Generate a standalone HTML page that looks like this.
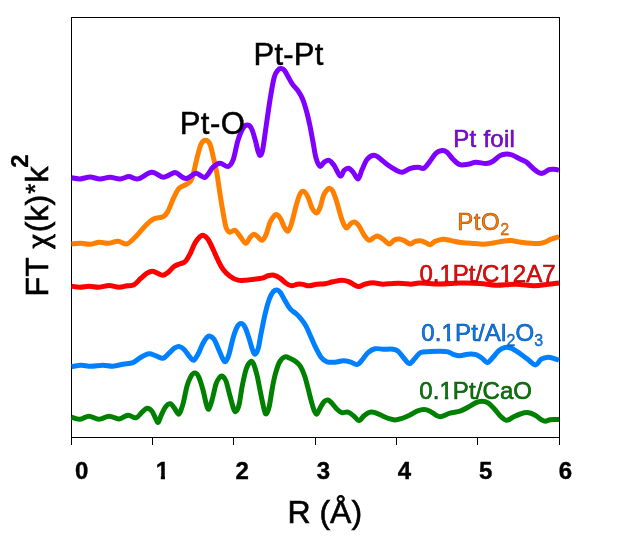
<!DOCTYPE html>
<html lang="en">
<head>
<meta charset="utf-8">
<title>Pt EXAFS Fourier transform</title>
<style>
html,body{margin:0;padding:0;background:#fff;}
body{width:629px;height:538px;overflow:hidden;position:relative;}
svg{display:block;position:absolute;left:0;top:0;}
text{font-family:"Liberation Sans",Arial,Helvetica,sans-serif;}
.curve{fill:none;stroke-width:5;stroke-linejoin:round;stroke-linecap:butt;}
.ax{stroke:#000;stroke-width:1;fill:none;shape-rendering:crispEdges;}
.tick{font-weight:bold;font-size:24px;fill:#000;stroke:#000;stroke-width:0.4px;}
.big{font-size:32px;fill:#000;stroke:#000;stroke-width:0.6px;}
.peak{font-size:31px;fill:#000;stroke:#000;stroke-width:0.5px;}
.lab{font-size:24px;stroke-width:0.6px;stroke-opacity:0.85;}
.sub{font-size:16px;stroke-width:0.35px;}
.chi{font-family:"Liberation Serif","DejaVu Serif",serif;}
</style>
</head>
<body>
<svg width="629" height="538" viewBox="0 0 629 538">
<defs>
<clipPath id="plot"><rect x="71" y="17" width="489" height="421"/></clipPath>
<clipPath id="cr"><path clip-rule="evenodd" d="M0 0H629V538H0ZM438.42 278.50H444.92V284.10H438.42ZM448.22 278.50H452.32V284.10H448.22ZM498.43 278.50H504.93V284.10H498.43ZM508.23 278.50H512.33V284.10H508.23Z"/></clipPath>
<clipPath id="cb"><path clip-rule="evenodd" d="M0 0H629V538H0ZM440.52 337.70H447.02V343.30H440.52ZM450.32 337.70H454.42V343.30H450.32Z"/></clipPath>
<clipPath id="cg"><path clip-rule="evenodd" d="M0 0H629V538H0ZM438.42 395.80H444.92V401.40H438.42ZM448.22 395.80H452.32V401.40H448.22Z"/></clipPath>
<clipPath id="oneB"><path d="M-1 -21H9.3V2H5.2V-3.6H-1Z"/></clipPath>
</defs>
<rect x="0" y="0" width="629" height="538" fill="#ffffff"/>
<g class="ax">
<rect x="71.5" y="17.5" width="488" height="420"/>
<line x1="71.50" y1="437" x2="71.50" y2="444.5"/><line x1="152.50" y1="437" x2="152.50" y2="444.5"/><line x1="233.50" y1="437" x2="233.50" y2="444.5"/><line x1="315.50" y1="437" x2="315.50" y2="444.5"/><line x1="396.50" y1="437" x2="396.50" y2="444.5"/><line x1="477.50" y1="437" x2="477.50" y2="444.5"/><line x1="559.50" y1="437" x2="559.50" y2="444.5"/>
</g>
<g clip-path="url(#plot)">
<path class="curve" stroke="#008000" d="M71.5 417.2C72.9 417.6 77.1 419.5 80.0 419.3C82.9 419.1 85.8 416.2 89.0 416.2C92.2 416.2 95.7 419.3 99.0 419.3C102.3 419.3 105.7 416.3 109.0 416.2C112.3 416.1 115.8 419.1 119.0 418.9C122.2 418.7 125.2 415.4 128.0 415.2C130.8 415.0 133.7 418.3 136.0 417.8C138.3 417.3 140.2 413.8 142.0 412.2C143.8 410.6 145.3 408.4 147.0 408.2C148.7 408.0 150.5 409.3 152.0 411.2C153.5 413.1 154.9 417.4 156.0 419.3C157.1 421.2 157.4 423.0 158.3 422.3C159.2 421.6 160.1 417.7 161.3 415.2C162.5 412.7 163.8 409.1 165.3 407.2C166.8 405.3 168.8 403.6 170.3 403.8C171.8 404.0 173.1 406.5 174.4 408.2C175.8 409.9 177.3 413.9 178.4 414.2C179.5 414.5 180.2 412.0 181.0 410.0C181.8 408.0 182.5 406.0 183.5 402.0C184.5 398.0 185.8 390.5 187.0 386.2C188.2 381.9 189.7 378.4 191.0 376.2C192.3 374.0 193.7 372.7 195.0 372.9C196.3 373.1 197.7 374.6 199.0 377.5C200.3 380.4 201.8 385.8 203.0 390.0C204.2 394.2 205.1 399.8 206.0 403.0C206.9 406.2 207.7 409.7 208.7 409.2C209.7 408.7 210.8 404.4 212.0 400.2C213.2 396.0 214.8 387.9 216.0 384.1C217.2 380.3 218.4 378.8 219.5 377.5C220.6 376.2 221.4 375.6 222.5 376.2C223.6 376.8 224.8 377.7 226.0 381.0C227.2 384.3 228.7 391.3 230.0 396.0C231.3 400.7 232.8 406.7 233.8 409.2C234.8 411.7 235.3 412.0 236.2 411.2C237.1 410.4 238.2 408.4 239.2 404.2C240.2 400.0 241.0 392.1 242.2 386.2C243.4 380.3 244.8 373.1 246.2 369.0C247.6 364.9 249.3 362.7 250.5 361.8C251.7 360.9 252.4 361.3 253.5 363.7C254.6 366.1 255.9 370.8 257.2 376.0C258.4 381.2 259.8 389.3 261.0 395.0C262.2 400.7 263.4 407.1 264.3 410.2C265.2 413.3 265.5 414.5 266.3 413.8C267.1 413.1 268.3 410.5 269.3 406.2C270.3 401.9 271.3 393.5 272.3 388.2C273.3 382.9 274.1 378.5 275.3 374.2C276.5 369.9 277.8 365.4 279.3 362.5C280.8 359.6 282.6 357.7 284.5 357.0C286.4 356.3 288.5 357.7 290.4 358.5C292.3 359.3 294.3 360.5 296.0 361.8C297.7 363.1 299.1 364.2 300.5 366.5C301.9 368.8 303.2 371.9 304.5 375.5C305.8 379.1 306.9 384.1 308.0 388.2C309.1 392.3 310.0 396.5 311.0 400.2C312.0 403.9 313.1 407.9 314.0 410.2C314.9 412.5 315.7 414.5 316.7 414.2C317.7 413.9 318.8 410.3 320.0 408.2C321.2 406.1 322.7 403.2 324.0 401.8C325.3 400.4 326.7 399.8 328.0 400.0C329.3 400.2 330.5 401.7 332.0 403.2C333.5 404.7 335.3 407.6 337.0 409.2C338.7 410.8 340.2 412.1 342.0 412.6C343.8 413.1 346.0 411.6 348.0 412.2C350.0 412.8 352.2 414.8 354.0 416.2C355.8 417.6 357.3 420.8 359.0 420.7C360.7 420.6 362.2 417.2 364.0 415.8C365.8 414.4 368.2 412.7 370.0 412.2C371.8 411.7 372.8 411.9 375.0 412.6C377.2 413.3 380.7 415.2 383.0 416.2C385.3 417.2 387.0 418.1 389.0 418.7C391.0 419.3 393.0 419.9 395.0 419.9C397.0 419.9 398.6 419.5 401.0 418.7C403.4 417.9 406.8 416.4 409.5 415.2C412.2 413.9 414.6 412.1 417.0 411.2C419.4 410.3 421.8 409.6 424.0 409.6C426.2 409.6 428.0 410.3 430.0 411.2C432.0 412.1 434.2 414.3 436.0 415.2C437.8 416.1 438.7 416.9 441.0 416.6C443.3 416.3 446.8 414.1 450.0 413.2C453.2 412.3 457.0 412.2 460.0 411.2C463.0 410.2 465.3 408.6 468.0 407.2C470.7 405.8 473.7 403.6 476.0 402.6C478.3 401.6 480.0 401.3 482.0 401.3C484.0 401.3 486.0 401.6 488.0 402.8C490.0 404.0 491.9 406.3 494.0 408.5C496.1 410.7 498.4 414.2 500.5 416.2C502.6 418.2 504.5 420.1 506.5 420.3C508.5 420.5 510.2 418.6 512.5 417.5C514.8 416.4 517.7 414.8 520.2 414.0C522.7 413.2 525.0 412.4 527.5 412.6C530.0 412.8 532.9 414.0 535.2 415.2C537.5 416.4 539.5 418.6 541.2 419.6C542.9 420.6 543.7 421.2 545.2 421.2C546.7 421.2 548.6 420.1 550.2 419.8C551.8 419.5 553.5 419.6 555.0 419.6C556.5 419.6 558.3 419.6 559.0 419.6"/>
<path class="curve" stroke="#0080ff" d="M71.5 366.6C73.1 366.4 77.8 365.3 81.0 365.2C84.2 365.1 87.3 366.2 91.0 366.2C94.7 366.2 99.3 365.2 103.0 365.2C106.7 365.2 109.7 366.4 113.0 366.2C116.3 366.0 119.7 364.8 123.0 364.2C126.3 363.6 130.0 363.8 133.0 362.6C136.0 361.4 138.3 358.7 141.0 357.2C143.7 355.7 146.5 354.0 149.0 353.8C151.5 353.6 153.7 355.1 156.0 355.8C158.3 356.5 160.8 358.6 163.0 358.2C165.2 357.8 167.1 354.9 169.0 353.2C170.9 351.5 172.6 349.3 174.4 348.2C176.2 347.1 177.9 346.3 179.6 346.6C181.3 346.9 182.9 348.2 184.6 350.0C186.3 351.8 188.5 355.5 190.0 357.2C191.5 358.9 192.3 360.8 193.6 360.3C194.9 359.8 196.4 357.1 198.0 354.2C199.6 351.3 201.5 346.0 203.0 343.2C204.5 340.4 205.8 338.4 207.0 337.2C208.2 336.0 208.8 335.9 210.0 336.2C211.2 336.5 212.5 336.9 214.0 339.2C215.5 341.5 217.5 346.8 219.0 350.2C220.5 353.6 221.9 357.4 223.0 359.3C224.1 361.2 224.7 362.2 225.7 361.3C226.7 360.4 227.8 358.1 229.0 354.2C230.2 350.3 231.7 342.7 233.0 338.2C234.3 333.7 235.7 329.6 237.0 327.2C238.3 324.8 239.7 323.5 241.0 323.5C242.3 323.5 243.7 324.8 245.0 327.2C246.3 329.6 247.7 334.4 249.0 338.2C250.3 342.0 251.6 347.5 252.6 350.2C253.6 352.9 254.2 354.5 255.2 354.2C256.1 353.9 257.3 351.9 258.3 348.2C259.3 344.5 260.1 338.0 261.3 332.2C262.5 326.4 264.0 318.6 265.3 313.1C266.6 307.6 268.0 302.7 269.3 299.1C270.6 295.5 272.0 293.1 273.3 291.6C274.6 290.1 275.7 289.9 276.9 290.0C278.1 290.1 278.9 290.5 280.3 292.4C281.7 294.2 283.6 298.3 285.3 301.1C287.0 303.9 288.5 307.0 290.4 309.1C292.3 311.2 294.6 312.3 296.5 314.0C298.4 315.7 299.9 317.5 301.5 319.5C303.1 321.5 304.4 323.2 306.0 326.1C307.6 329.0 309.3 333.4 311.0 337.1C312.7 340.8 314.3 344.9 316.0 348.2C317.7 351.5 319.2 354.9 321.0 357.2C322.8 359.5 324.7 361.0 327.0 361.8C329.3 362.6 332.3 362.4 335.0 362.2C337.7 362.0 340.5 360.9 343.0 360.8C345.5 360.7 347.7 361.2 350.0 361.8C352.3 362.4 355.0 364.9 357.0 364.6C359.0 364.3 360.2 362.2 362.0 360.2C363.8 358.2 365.8 354.5 368.0 352.6C370.2 350.7 372.5 349.4 375.0 348.8C377.5 348.2 380.0 349.1 383.0 349.2C386.0 349.3 390.5 348.9 393.0 349.2C395.5 349.5 396.2 349.7 398.0 351.2C399.8 352.7 402.1 356.1 404.0 358.2C405.9 360.3 407.7 363.5 409.5 363.6C411.3 363.7 412.7 360.7 414.6 358.8C416.5 356.9 418.1 353.6 420.7 352.4C423.3 351.2 426.8 351.8 430.0 351.6C433.2 351.4 437.0 351.2 440.0 351.2C443.0 351.2 445.7 351.2 448.0 351.8C450.3 352.4 452.0 353.9 454.0 354.6C456.0 355.3 457.7 355.9 460.0 355.8C462.3 355.7 465.3 354.4 468.0 354.2C470.7 354.0 473.8 354.0 476.0 354.6C478.2 355.2 479.6 356.5 481.5 357.8C483.4 359.1 485.5 362.5 487.4 362.4C489.3 362.3 491.1 359.2 493.0 357.2C494.9 355.2 497.0 352.1 499.0 350.5C501.0 348.9 503.0 347.9 505.0 347.5C507.0 347.1 508.7 347.3 511.0 348.2C513.3 349.1 516.3 351.1 519.0 352.9C521.7 354.7 524.3 356.8 527.0 358.8C529.7 360.8 532.9 364.8 535.3 364.9C537.7 365.0 539.1 360.5 541.2 359.2C543.4 357.9 546.0 357.3 548.2 357.2C550.4 357.1 552.4 358.1 554.2 358.6C556.0 359.1 558.2 359.9 559.0 360.2"/>
<path class="curve" stroke="#ff0000" d="M71.5 286.2C72.9 286.4 77.1 287.2 80.0 287.2C82.9 287.2 85.8 286.2 89.0 286.2C92.2 286.2 95.7 287.3 99.0 287.2C102.3 287.1 105.7 285.6 109.0 285.6C112.3 285.6 116.0 287.2 119.0 287.2C122.0 287.2 124.5 286.2 127.0 285.8C129.5 285.4 131.7 286.1 134.0 284.8C136.3 283.5 138.8 280.1 141.0 278.2C143.2 276.3 145.1 274.4 147.0 273.2C148.9 272.0 150.6 271.2 152.3 271.2C154.0 271.2 155.5 272.5 157.3 273.2C159.1 273.9 161.1 275.4 162.9 275.2C164.7 275.0 166.4 273.7 168.3 272.2C170.2 270.7 172.4 267.6 174.4 266.2C176.4 264.8 178.4 264.6 180.2 263.8C182.0 263.0 183.5 263.3 185.2 261.6C186.9 259.9 188.6 256.7 190.2 253.6C191.8 250.5 193.4 245.9 195.0 243.1C196.6 240.3 198.6 238.0 200.0 236.7C201.4 235.4 202.2 234.9 203.5 235.3C204.8 235.7 206.4 236.9 208.0 239.2C209.6 241.5 211.3 245.6 213.0 249.1C214.7 252.6 216.3 256.8 218.0 260.2C219.7 263.6 221.0 266.5 223.0 269.2C225.0 271.9 227.5 274.4 230.0 276.2C232.5 278.0 235.3 279.5 238.0 280.2C240.7 280.9 243.3 280.4 246.0 280.2C248.7 280.0 251.3 279.5 254.0 279.2C256.7 278.9 259.7 278.8 262.0 278.2C264.3 277.6 266.0 276.3 268.0 275.8C270.0 275.3 272.0 274.8 274.0 275.2C276.0 275.6 278.0 276.9 280.0 278.2C282.0 279.5 284.1 281.9 286.0 283.2C287.9 284.5 289.5 285.6 291.4 285.8C293.3 286.0 295.5 284.4 297.4 284.2C299.3 284.0 301.1 284.1 303.0 284.4C304.9 284.7 306.7 285.8 309.0 285.8C311.3 285.8 314.3 284.5 317.0 284.2C319.7 283.9 322.3 284.2 325.0 283.8C327.7 283.4 330.2 282.4 333.0 281.8C335.8 281.2 339.3 280.2 342.0 280.2C344.7 280.2 346.8 281.0 349.0 281.8C351.2 282.6 353.3 284.4 355.0 285.2C356.7 286.0 357.3 286.8 359.0 286.6C360.7 286.4 362.7 284.8 365.0 284.2C367.3 283.6 370.0 282.8 373.0 282.8C376.0 282.8 379.7 284.1 383.0 284.2C386.3 284.3 389.7 283.5 393.0 283.4C396.3 283.3 400.0 283.3 403.0 283.4C406.0 283.5 408.2 284.2 411.0 284.2C413.8 284.1 415.2 283.1 420.0 283.1C424.8 283.1 433.3 284.1 440.0 284.1C446.7 284.1 453.3 283.2 460.0 283.1C466.7 283.0 474.0 283.1 480.0 283.5C486.0 283.9 490.0 285.1 496.0 285.2C502.0 285.3 509.7 284.1 516.0 284.2C522.3 284.3 528.7 285.7 534.0 285.7C539.3 285.7 543.8 284.8 548.0 284.3C552.2 283.8 557.2 283.1 559.0 282.9"/>
<path class="curve" stroke="#ff8000" d="M71.5 243.9C73.1 243.8 77.9 243.2 81.0 243.3C84.1 243.4 87.0 244.5 90.0 244.3C93.0 244.1 96.0 242.5 99.0 242.3C102.0 242.1 104.8 243.5 108.0 243.3C111.2 243.1 114.8 241.2 118.0 241.3C121.2 241.4 124.2 244.6 127.0 243.9C129.8 243.2 132.0 240.2 135.0 237.3C138.0 234.4 142.0 229.2 145.0 226.2C148.0 223.2 150.0 220.8 153.0 219.2C156.0 217.6 160.5 218.1 163.0 216.8C165.5 215.5 166.2 214.5 168.0 211.2C169.8 207.9 172.1 201.0 174.0 197.2C175.9 193.3 177.2 190.3 179.4 188.1C181.6 185.9 184.9 185.6 187.0 184.0C189.1 182.4 190.3 182.6 192.0 178.3C193.7 174.0 195.5 163.9 197.0 158.2C198.5 152.5 199.6 147.2 201.0 144.2C202.4 141.2 204.1 140.2 205.6 140.2C207.1 140.2 208.7 141.2 210.0 144.2C211.3 147.2 212.3 153.0 213.5 158.0C214.7 163.0 215.9 168.0 217.0 174.0C218.1 180.0 219.0 187.7 220.0 194.0C221.0 200.3 222.0 206.5 223.0 212.0C224.0 217.5 224.9 223.8 226.0 227.2C227.1 230.6 228.2 231.7 229.7 232.2C231.2 232.7 233.3 229.5 235.0 230.2C236.7 230.9 238.2 234.0 240.0 236.2C241.8 238.4 244.0 243.1 245.7 243.3C247.4 243.5 248.8 238.7 250.2 237.2C251.6 235.7 252.9 234.2 254.2 234.2C255.5 234.2 256.9 236.2 258.2 237.2C259.5 238.2 260.9 240.8 262.2 240.3C263.5 239.8 264.9 237.2 266.2 234.2C267.5 231.2 268.6 225.5 270.2 222.2C271.8 218.9 274.1 215.3 275.8 214.6C277.5 213.9 278.9 216.1 280.3 218.2C281.7 220.3 283.0 225.0 284.3 227.2C285.6 229.4 286.7 231.7 287.9 231.2C289.1 230.7 289.9 228.4 291.3 224.2C292.7 220.0 294.6 211.1 296.0 206.1C297.4 201.1 298.7 196.5 300.0 194.1C301.3 191.7 302.7 191.0 304.0 191.5C305.3 192.0 306.6 194.3 308.0 197.1C309.4 199.9 310.7 205.5 312.1 208.2C313.5 210.8 315.1 213.2 316.5 213.0C317.9 212.8 319.0 210.2 320.2 207.2C321.4 204.2 322.4 198.1 323.7 195.1C324.9 192.1 326.7 190.2 327.7 189.1C328.7 188.0 328.9 188.2 329.8 188.5C330.7 188.8 331.6 188.8 332.8 191.1C334.0 193.4 335.5 197.9 336.8 202.1C338.1 206.3 339.5 212.2 340.8 216.2C342.1 220.2 343.7 224.3 344.8 226.2C345.9 228.1 346.1 228.3 347.2 227.8C348.2 227.3 349.8 224.1 351.1 223.2C352.4 222.3 353.8 221.7 355.1 222.2C356.5 222.7 357.7 224.0 359.2 226.2C360.7 228.4 362.5 232.8 364.2 235.2C365.9 237.5 367.5 240.0 369.2 240.3C370.9 240.6 372.7 237.9 374.2 237.2C375.7 236.5 376.7 235.8 378.2 236.2C379.7 236.5 381.3 238.0 383.2 239.3C385.1 240.6 387.4 243.8 389.3 243.9C391.2 244.0 392.6 240.7 394.3 239.9C396.0 239.1 397.6 238.8 399.3 238.9C401.0 239.0 402.5 239.9 404.3 240.7C406.1 241.5 408.5 243.8 410.3 243.9C412.1 244.0 413.6 241.8 415.3 241.3C417.0 240.8 418.7 240.5 420.4 240.7C422.1 240.9 423.8 241.8 425.4 242.5C427.0 243.2 428.6 244.9 430.2 244.7C431.8 244.5 433.1 242.2 435.2 241.3C437.3 240.4 440.4 239.3 443.0 239.2C445.6 239.1 448.0 240.0 451.0 240.6C454.0 241.2 457.7 242.2 461.0 242.6C464.3 243.0 467.3 242.9 471.0 243.2C474.7 243.5 479.3 244.2 483.0 244.2C486.7 244.2 489.7 243.5 493.0 243.0C496.3 242.5 500.0 241.6 503.0 241.2C506.0 240.8 508.0 240.4 511.0 240.6C514.0 240.8 517.7 241.8 521.0 242.2C524.3 242.6 527.7 243.0 531.0 243.2C534.3 243.4 538.2 243.6 541.0 243.2C543.8 242.8 545.8 241.7 547.5 241.0C549.2 240.3 549.1 239.9 551.0 239.2C552.9 238.5 557.7 237.1 559.0 236.7"/>
<path class="curve" stroke="#8000ff" d="M71.5 177.8C72.9 178.0 76.9 179.0 80.0 178.9C83.1 178.8 86.7 177.0 90.0 177.0C93.3 177.0 96.7 179.0 100.0 179.0C103.3 179.0 106.7 177.2 110.0 177.2C113.3 177.2 116.8 179.0 120.0 178.9C123.2 178.8 126.0 176.6 129.0 176.6C132.0 176.6 134.2 179.6 138.0 178.9C141.8 178.2 147.5 172.5 151.7 172.2C155.9 171.9 159.7 177.1 163.3 177.2C166.9 177.3 171.0 173.5 173.3 172.8C175.6 172.2 174.9 172.4 177.0 173.3C179.1 174.2 182.8 178.5 186.0 178.5C189.2 178.5 192.8 173.5 196.0 173.3C199.2 173.1 202.2 178.3 205.0 177.3C207.8 176.3 210.5 169.5 213.0 167.2C215.5 164.8 217.5 163.3 220.0 163.2C222.5 163.1 225.8 167.1 228.0 166.6C230.2 166.1 231.3 164.6 233.0 160.2C234.7 155.8 236.3 145.5 238.0 140.2C239.7 134.8 241.5 130.6 243.0 128.1C244.5 125.6 245.8 125.1 247.2 125.1C248.6 125.1 250.0 125.6 251.3 128.1C252.7 130.6 254.1 136.2 255.3 140.2C256.5 144.2 257.4 149.7 258.3 152.2C259.2 154.7 259.9 155.9 260.7 155.2C261.5 154.5 262.1 153.0 263.0 148.0C263.9 143.0 265.1 133.3 266.3 125.0C267.5 116.7 269.0 106.0 270.3 98.0C271.6 90.0 273.0 81.7 274.3 77.0C275.6 72.3 277.2 71.1 278.3 69.7C279.4 68.3 279.9 68.3 280.9 68.4C281.9 68.5 283.1 68.6 284.3 70.1C285.5 71.5 287.0 74.8 288.3 77.1C289.6 79.4 290.8 81.8 292.4 84.1C294.0 86.4 296.5 88.6 298.2 91.1C299.9 93.6 301.1 95.3 302.6 99.0C304.1 102.7 305.8 108.5 307.0 113.0C308.2 117.5 309.0 121.2 310.0 126.0C311.0 130.8 312.0 136.7 313.0 142.0C314.0 147.3 314.8 153.9 316.0 158.0C317.2 162.1 318.7 165.6 320.0 166.3C321.3 167.0 322.5 163.3 324.0 162.3C325.5 161.3 327.3 159.8 329.0 160.3C330.7 160.8 332.1 162.7 334.0 165.3C335.9 167.9 338.5 175.1 340.2 175.9C341.9 176.7 342.8 171.6 344.2 170.3C345.6 169.0 347.1 168.0 348.6 168.3C350.1 168.6 351.6 170.5 353.2 172.3C354.8 174.1 356.7 179.4 358.2 178.9C359.7 178.4 360.7 172.6 362.2 169.3C363.7 166.0 365.3 161.7 367.2 159.3C369.1 157.0 371.4 155.5 373.3 155.2C375.2 154.8 375.8 155.5 378.3 157.2C380.8 158.9 385.3 163.1 388.3 165.3C391.3 167.5 394.0 169.1 396.3 170.3C398.6 171.5 400.0 172.6 402.4 172.3C404.8 172.0 407.8 169.2 410.4 168.3C413.0 167.5 415.7 167.2 418.0 167.2C420.3 167.2 422.0 169.2 424.0 168.2C426.0 167.2 428.0 163.7 430.0 161.2C432.0 158.7 434.0 155.0 436.0 153.2C438.0 151.4 440.2 150.8 442.0 150.6C443.8 150.4 445.2 150.8 447.0 152.2C448.8 153.6 450.8 157.1 453.0 159.2C455.2 161.3 457.5 163.8 460.0 164.6C462.5 165.4 465.3 164.6 468.0 164.2C470.7 163.8 473.0 162.3 476.0 162.2C479.0 162.1 483.2 163.8 486.0 163.6C488.8 163.4 490.7 162.5 493.0 161.2C495.3 159.9 497.8 156.8 500.0 155.6C502.2 154.4 504.5 154.0 506.5 153.9C508.5 153.8 509.9 154.1 512.2 155.0C514.5 155.9 518.1 158.1 520.4 159.2C522.7 160.3 523.7 160.1 526.0 161.8C528.3 163.5 531.7 167.3 534.0 169.2C536.3 171.1 538.3 172.6 540.0 173.2C541.7 173.8 542.5 173.2 544.0 172.6C545.5 172.0 547.3 170.2 549.0 169.6C550.7 169.0 552.3 169.1 554.0 169.2C555.7 169.3 558.2 170.0 559.0 170.2"/>
</g>
<g class="tick"><text x="81.6" y="478.8" text-anchor="middle">0</text><g transform="translate(155.63 478.8)"><text x="0" y="0" clip-path="url(#oneB)">1</text></g><text x="242.2" y="478.8" text-anchor="middle">2</text><text x="323.5" y="478.8" text-anchor="middle">3</text><text x="404.4" y="478.8" text-anchor="middle">4</text><text x="485.7" y="478.8" text-anchor="middle">5</text><text x="565.5" y="478.8" text-anchor="middle">6</text></g>
<g class="peak">
<text x="253.6" y="64.5" letter-spacing="0.2" id="ptpt">Pt-Pt</text>
<text x="179.7" y="133.6" letter-spacing="0.45" id="pto">Pt-O</text>
</g>
<g class="big">
<text x="287.4" y="523.3" id="xlab">R (Å)</text>
<g transform="translate(48.1 296.4) rotate(-90)"><text x="0" y="0" id="ylab">FT <tspan class="chi" x="47.8" stroke-width="0.9">χ</tspan><tspan x="64.2">(k)</tspan><tspan x="102.7" dy="-4.4" font-size="26">*</tspan><tspan x="113.97" dy="4.4">k</tspan><tspan dx="-1.2" dy="-20" font-size="24" font-weight="bold" stroke-width="0.3">2</tspan></text></g>
</g>
<g class="lab">
<text x="453.3" y="147" fill="#8000ff" stroke="#50005a" letter-spacing="0.25">Pt foil</text>
<text x="457.3" y="229.9" fill="#ff8000" stroke="#7a3000" letter-spacing="0.5">PtO<tspan dy="4.7" class="sub">2</tspan></text>
<text x="419.4" y="282.1" fill="#ff0000" stroke="#700000" letter-spacing="0" clip-path="url(#cr)">0.1Pt/C12A7</text>
<text x="421.2" y="341.3" fill="#0080ff" stroke="#003070" letter-spacing="0.15" clip-path="url(#cb)">0.1Pt/Al<tspan dy="5.1" class="sub">2</tspan><tspan dy="-5.1">O</tspan><tspan dy="5.1" class="sub">3</tspan></text>
<text x="419.2" y="399.4" fill="#008000" stroke="#003000" letter-spacing="0.1" clip-path="url(#cg)">0.1Pt/CaO</text>
</g>
</svg>
</body>
</html>
